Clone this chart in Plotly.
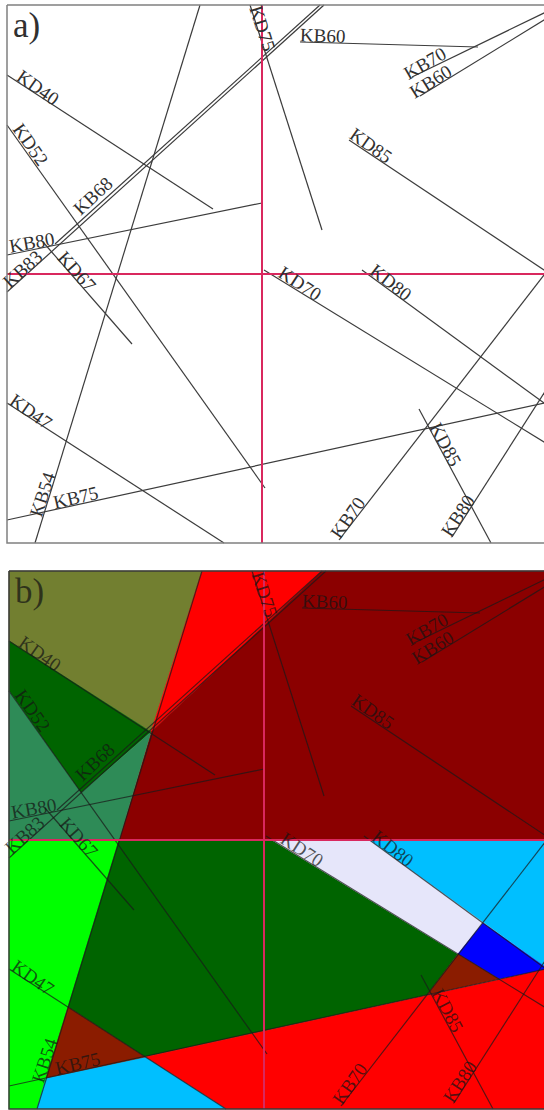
import plotly.graph_objects as go

# Fault traces, map units (y grows downward), start/end of each trace
fault_names = ["KD40", "KD52", "KD67", "KB68", "KB83", "KB80", "KB54", "KD47", "KB75", "KD75",
               "KB60", "KB70", "KB60", "KD85", "KD70", "KD80", "KB70", "KB80", "KD85"]
fault_x0 = [7, 7, 43, 55, 7, 7, 200, 7, 7, 250, 300, 412, 420, 349, 264, 362, 339, 452, 419]
fault_y0 = [75, 125, 242, 244, 292, 255, 5, 403, 520, 5, 42, 77, 96, 140, 270, 270, 540, 537, 409]
fault_x1 = [213, 265, 132, 320, 324, 262, 35, 224, 546, 322, 478, 546, 546, 546, 546, 546, 546, 546, 491]
fault_y1 = [209, 488, 344, 5, 5, 203, 543, 543, 402.6, 230, 47, 12, 18.8, 271.3, 443.2, 404.5, 272.4, 390, 543]

# Fault labels: text, centre and rotation
label_text = ["KD40", "KD52", "KB68", "KB80", "KB83", "KD67", "KD47", "KB54", "KB75", "KD75",
              "KB60", "KB70", "KB60", "KD85", "KD70", "KD80", "KD85", "KB70", "KB80"]
label_x = [38, 31, 92, 31, 22, 77, 31, 42, 75.5, 263, 322, 424.5, 430.5, 371, 300, 391, 446, 347, 457]
label_y = [87, 144, 196, 242, 269.5, 271, 411, 494, 497.5, 28, 35, 63, 81.5, 145, 283, 282, 444, 518, 516]
label_angle = [35, 55, -43, -10, -42, 48, 35, -72, -13, 72, 2, -30, -32, 35, 33, 38, 62, -55, -57]

# Map frame and reference cross
frame_x = [7, 546, 546, 7, 7]
frame_y = [5, 5, 543, 543, 5]
cross_x = 262
cross_y = 274

# Block zones of panel b (vertices in map units)
zone_colors = ["#727F30", "#FF0000", "#8B0000", "#006400", "#2E8B57", "#00FF00", "#006400",
               "#E6E6FA", "#00BFFF", "#0000FF", "#8B1C00", "#FF0000", "#00BFFF", "#8B1C00"]
zone_x = [
    [7, 200, 149, 7],
    [200, 320, 149],
    [149, 320, 546, 546, 117],
    [7, 149, 79, 7],
    [7, 79, 149, 117, 7],
    [7, 117, 66, 44, 35, 7],
    [117, 270, 456, 425, 143, 66],
    [270, 368, 481, 456],
    [368, 546, 546],
    [456, 481, 546, 497],
    [456, 425, 497],
    [143, 546, 546, 224],
    [44, 143, 224, 35],
    [66, 143, 44],
]
zone_y = [
    [5, 5, 166, 75],
    [5, 5, 166],
    [166, 5, 5, 274, 274],
    [75, 166, 227, 125],
    [125, 227, 166, 274, 274],
    [274, 274, 441, 512, 543, 543],
    [274, 274, 388, 429, 491, 441],
    [274, 274, 357, 388],
    [274, 274, 403],
    [388, 357, 403, 413],
    [388, 429, 413],
    [491, 403, 543, 543],
    [512, 491, 543, 543],
    [441, 491, 512],
]

SERIF = "Liberation Serif"
fig = go.Figure()


def seg_xy():
    xs, ys = [], []
    for a, b, c, d in zip(fault_x0, fault_y0, fault_x1, fault_y1):
        xs += [a, c, None]
        ys += [b, d, None]
    return xs, ys


def draw_panel(xa, ya, line_col, text_col, frame_col, tag, with_zones):
    if with_zones:
        for col, zx, zy in zip(zone_colors, zone_x, zone_y):
            fig.add_trace(go.Scatter(x=zx + [zx[0]], y=zy + [zy[0]], mode="lines",
                                     fill="toself", fillcolor=col,
                                     line=dict(width=0.6, color=col),
                                     hoverinfo="skip", showlegend=False,
                                     xaxis=xa, yaxis=ya))
    xs, ys = seg_xy()
    fig.add_trace(go.Scatter(x=xs, y=ys, mode="lines",
                             line=dict(color=line_col, width=1.2),
                             hoverinfo="skip", showlegend=False, xaxis=xa, yaxis=ya))
    # reference cross
    fig.add_trace(go.Scatter(x=[cross_x, cross_x, None, frame_x[0], frame_x[1]],
                             y=[frame_y[0], frame_y[2], None, cross_y, cross_y],
                             mode="lines", line=dict(color="#D9285E", width=2),
                             hoverinfo="skip", showlegend=False, xaxis=xa, yaxis=ya))
    fig.add_trace(go.Scatter(x=frame_x, y=frame_y, mode="lines",
                             line=dict(color=frame_col, width=1.5),
                             hoverinfo="skip", showlegend=False, xaxis=xa, yaxis=ya))
    for t, x, y, ang in zip(label_text, label_x, label_y, label_angle):
        fig.add_annotation(x=x, y=y, xref=xa, yref=ya, text=t, textangle=ang,
                           showarrow=False, font=dict(family=SERIF, size=19, color=text_col))
    fig.add_annotation(x=11, y=4, xref=xa, yref=ya, text=tag, showarrow=False,
                       xanchor="left", yanchor="top",
                       font=dict(family=SERIF, size=35, color=text_col))


draw_panel("x", "y", "#3c3c3c", "#303030", "#808080", "a)", False)
draw_panel("x2", "y2", "rgba(25,25,25,0.72)", "rgba(20,20,20,0.72)", "#3a3a3a", "b)", True)

axis_off = dict(visible=False, showgrid=False, zeroline=False, fixedrange=True)
fig.update_layout(
    width=544, height=1110,
    margin=dict(l=0, r=0, t=0, b=0),
    paper_bgcolor="white", plot_bgcolor="white",
    xaxis=dict(domain=[0, 1], range=[0, 544], anchor="y", **axis_off),
    yaxis=dict(domain=[0.5, 1], range=[555, 0], anchor="x", **axis_off),
    xaxis2=dict(domain=[0, 1], range=[-2, 542], anchor="y2", **axis_off),
    yaxis2=dict(domain=[0, 0.5], range=[544, -11], anchor="x2", **axis_off),
)

fig.write_html("out.html")
